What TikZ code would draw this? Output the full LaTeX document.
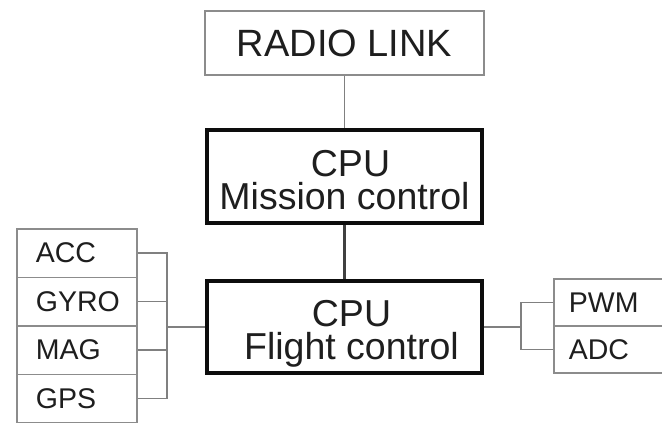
\documentclass[tikz,border=0pt]{standalone}
\usepackage{fontspec}
\setmainfont{Liberation Sans}
\definecolor{inkgray}{HTML}{1E1E1E}
\definecolor{framegray}{HTML}{8C8C8C}
\definecolor{wiregray}{HTML}{808080}
\definecolor{busdark}{HTML}{404040}
% struts that fix the height of the first and the depth of the last line
\newcommand{\topstrut}{\rule{0pt}{40pt}}
\newcommand{\botstrut}{\rule[-8pt]{0pt}{8pt}}
\begin{document}
\begin{tikzpicture}[x=1pt,y=-1pt,
  bigfont/.style={font=\fontsize{37.5}{33}\selectfont},
  smallfont/.style={font=\fontsize{28.5}{30}\selectfont},
  thinbox/.style={draw=framegray,line width=1.7pt,rectangle,inner sep=0pt,text=inkgray},
  cpubox/.style={draw=black!95,line width=4.2pt,rectangle,inner sep=0pt,text=inkgray,
    minimum width=275pt,align=center,bigfont},
  cellbox/.style={thinbox,anchor=north west,inner xsep=19pt,inner ysep=0pt,align=left,smallfont},
  wire/.style={draw=wiregray,line width=1.7pt},
  bus/.style={draw=busdark,line width=2.2pt}]

\path[use as bounding box] (0,0) rectangle (662,423);
\clip (0,0) rectangle (662,423);
\fill[white] (0,0) rectangle (662,423);

% top-level units
\node[thinbox,font=\fontsize{38}{40}\selectfont,minimum width=279pt,minimum height=64pt] (radio) at (344.5,43) {RADIO LINK};
\node[cpubox,minimum height=93pt] (mission) at (344.5,176.5)
  {\topstrut\hspace*{12pt}CPU\\Mission control\botstrut};
\node[cpubox,minimum height=92pt] (flight) at (344.5,327)
  {\topstrut\hspace*{14pt}CPU\\\hspace*{14pt}Flight control\botstrut};

% sensor column on the left
\node[cellbox,text width=82pt,minimum height=48.5pt] (acc)  at (16,228)   {ACC};
\node[cellbox,text width=82pt,minimum height=48.5pt] (gyro) at (16,276.5) {GYRO};
\node[cellbox,text width=82pt,minimum height=48.5pt] (mag)  at (16,325)   {MAG};
\node[cellbox,text width=82pt,minimum height=48.5pt] (gps)  at (16,373.5) {GPS};

% output column on the right
\node[cellbox,inner xsep=15pt,text width=110pt,minimum height=47pt] (pwm) at (553,278) {PWM};
\node[cellbox,inner xsep=15pt,text width=110pt,minimum height=47pt] (adc) at (553,325) {ADC};

% bracket junctions
\coordinate (lj) at (167,327);
\coordinate (rj) at (521,327);

% links between the processors
\draw[wire] (radio.south) -- (mission.north);
\draw[bus] (mission.south) -- (flight.north);

% sensor bus
\draw[wire] (acc.east) -- (acc.east -| lj) -- (gps.east -| lj) -- (gps.east);
\draw[wire] (gyro.east) -- (gyro.east -| lj);
\draw[wire] (mag.east) -- (mag.east -| lj);
\draw[wire] (lj) -- (flight.west);

% output bus
\draw[wire] (flight.east) -- (rj);
\draw[wire] (pwm.west) -- (pwm.west -| rj) -- (adc.west -| rj) -- (adc.west);
\end{tikzpicture}
\end{document}
